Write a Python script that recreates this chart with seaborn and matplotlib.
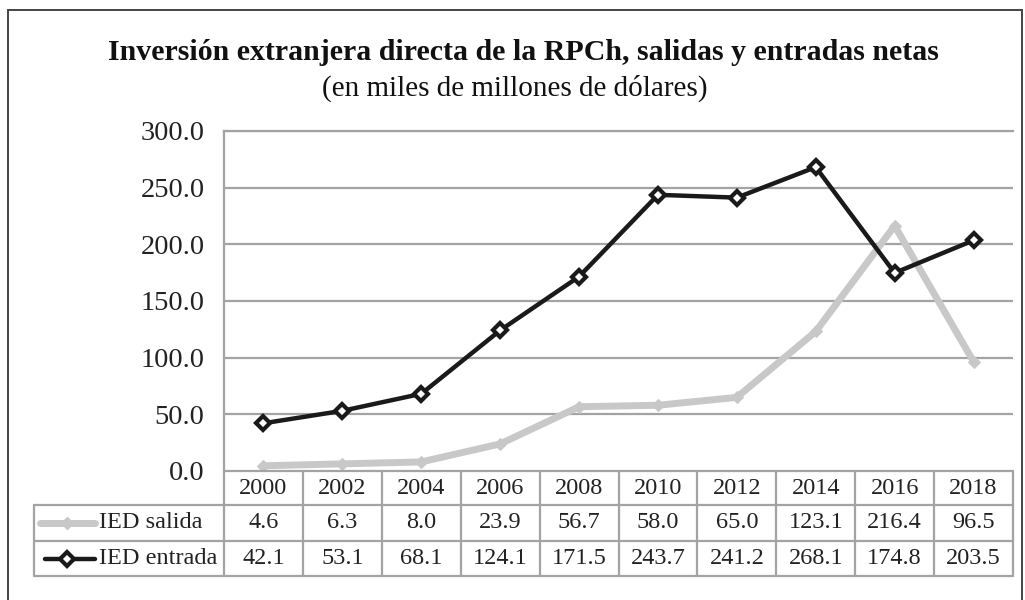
import numpy as np
import pandas as pd
import matplotlib.pyplot as plt
import seaborn as sns
from matplotlib.patches import Rectangle

years = ['2000', '2002', '2004', '2006', '2008', '2010', '2012', '2014', '2016', '2018']
ied_salida = [4.6, 6.3, 8.0, 23.9, 56.7, 58.0, 65.0, 123.1, 216.4, 96.5]
ied_entrada = [42.1, 53.1, 68.1, 124.1, 171.5, 243.7, 241.2, 268.1, 174.8, 203.5]
series_names = ['IED salida', 'IED entrada']
yticks = [0, 50, 100, 150, 200, 250, 300]

sns.set_style('white')
plt.rcParams['font.family'] = ['Liberation Serif', 'DejaVu Serif']

grey_line = '#c8c8c8'
dark = '#1a1a1a'
grid_c = '#a3a3a3'

df = pd.DataFrame({'pos': list(range(len(years))) * 2,
                   'valor': ied_salida + ied_entrada,
                   'serie': [series_names[0]] * len(years) + [series_names[1]] * len(years)})

fig = plt.figure(figsize=(10.25, 6), dpi=100)
ax = fig.add_axes([224 / 1025, 1 - 471 / 600, 789 / 1025, 340 / 600])

for y in yticks[1:]:
    ax.axhline(y, color=grid_c, lw=1.6, zorder=0)

sns.lineplot(data=df[df['serie'] == series_names[0]], x='pos', y='valor', ax=ax,
             color=grey_line, lw=5, marker='D', markersize=6,
             markeredgecolor=grey_line, markerfacecolor=grey_line, zorder=2)
sns.lineplot(data=df[df['serie'] == series_names[1]], x='pos', y='valor', ax=ax,
             color=dark, lw=3.2, marker='D', markersize=7,
             markeredgecolor=dark, markerfacecolor='white', markeredgewidth=3, zorder=3)

ax.set_xlim(-0.5, len(years) - 0.5)
ax.set_ylim(0, 300)
ax.set_yticks(yticks)
ax.set_yticklabels([f'{v:.1f}' for v in yticks], fontsize=20.5, color='#222222')
ax.tick_params(axis='y', length=0, pad=14)
ax.set_xticks([])
ax.set_xlabel('')
ax.set_ylabel('')
for s in ['right', 'bottom']:
    ax.spines[s].set_visible(False)
for s in ['left', 'top']:
    ax.spines[s].set_color(grid_c)
    ax.spines[s].set_linewidth(1.6)

# data table below the plot
tr = ax.get_xaxis_transform()
def yax(p):
    return (471 - p) / 340

rows = [471, 505, 541, 576]
x_left = -0.5 - 190 / 78.9
x_right = len(years) - 0.5
lw_t = 1.6
ax.plot([-0.5, x_right], [yax(rows[0])] * 2, transform=tr, color=grid_c, lw=lw_t, clip_on=False)
for r in rows[1:]:
    ax.plot([x_left, x_right], [yax(r)] * 2, transform=tr, color=grid_c, lw=lw_t, clip_on=False)
for i in range(len(years) + 1):
    ax.plot([i - 0.5] * 2, [yax(rows[0]), yax(rows[3])], transform=tr, color=grid_c, lw=lw_t, clip_on=False)
ax.plot([x_left] * 2, [yax(rows[1]), yax(rows[3])], transform=tr, color=grid_c, lw=lw_t, clip_on=False)

tfs = 17.5
for i, yr in enumerate(years):
    ax.text(i, yax((rows[0] + rows[1]) / 2), yr, transform=tr, ha='center', va='center', fontsize=tfs, color='#222222')
    ax.text(i, yax((rows[1] + rows[2]) / 2), f'{ied_salida[i]:.1f}', transform=tr, ha='center', va='center', fontsize=tfs, color='#222222')
    ax.text(i, yax((rows[2] + rows[3]) / 2), f'{ied_entrada[i]:.1f}', transform=tr, ha='center', va='center', fontsize=tfs, color='#222222')

# legend keys inside the table
px = 1 / 78.9
k0 = -0.5 - (224 - 40) * px
k1 = -0.5 - (224 - 95) * px
km = -0.5 - (224 - 67) * px
yk1 = yax((rows[1] + rows[2]) / 2)
yk2 = yax((rows[2] + rows[3]) / 2)
ax.plot([k0, k1], [yk1, yk1], transform=tr, color=grey_line, lw=5, clip_on=False)
ax.plot([km], [yk1], transform=tr, marker='D', markersize=6, color=grey_line, clip_on=False)
ax.plot([k0 + 5 * px, k1], [yk2, yk2], transform=tr, color=dark, lw=3.2, clip_on=False)
ax.plot([km], [yk2], transform=tr, marker='D', markersize=7, markerfacecolor='white',
        markeredgecolor=dark, markeredgewidth=3, clip_on=False)
tx = -0.5 - (224 - 99) * px
ax.text(tx, yk1, series_names[0], transform=tr, ha='left', va='center', fontsize=tfs, color='#222222')
ax.text(tx, yk2, series_names[1], transform=tr, ha='left', va='center', fontsize=tfs, color='#222222')

# titles
fig.text(0.511, 1 - 52 / 600, 'Inversión extranjera directa de la RPCh, salidas y entradas netas',
         ha='center', va='center', fontsize=21.5, fontweight='bold', color='#111111')
fig.text(0.502, 1 - 88 / 600, '(en miles de millones de dólares)',
         ha='center', va='center', fontsize=21, color='#111111')

# outer frame
fig.patches.append(Rectangle((8 / 1025, -0.05), 1014 / 1025, 1.05 - 10 / 600, transform=fig.transFigure,
                             fill=False, edgecolor='#444444', lw=1.4))

fig.savefig('out.png', dpi=100)
